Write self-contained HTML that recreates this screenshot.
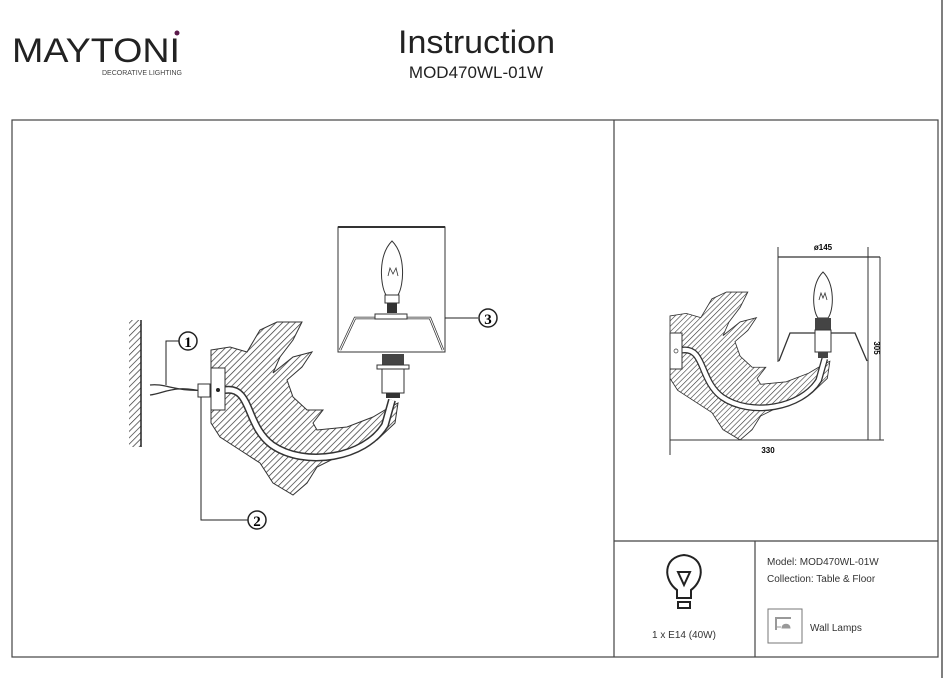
<!DOCTYPE html>
<html><head><meta charset="utf-8"><style>
body{margin:0;background:#fff;width:947px;height:678px;overflow:hidden;font-family:"Liberation Sans",sans-serif}
</style></head><body>
<svg width="947" height="678" viewBox="0 0 947 678" xmlns="http://www.w3.org/2000/svg" font-family="Liberation Sans, sans-serif">
<defs>
<pattern id="h" width="4.5" height="4.5" patternUnits="userSpaceOnUse" patternTransform="rotate(45)">
<rect width="5" height="5" fill="#fff"/><line x1="0" y1="0" x2="0" y2="5" stroke="#333" stroke-width="1.4"/></pattern>
<g id="body">
<path d="M211,350 L230,347 L247,352 L260,330 L277,322 L302,322 L293,340 L280,357 L273,373 L293,357 L312,352 L302,367 L287,380 L293,397 L307,410 L323,410 L313,423 L317,430 L347,427 L373,417 L390,407 L398,403 L395,423 L377,440 L353,450 L337,457 L317,467 L307,483 L293,495 L273,483 L260,463 L240,450 L220,437 L211,423 Z" fill="url(#h)" stroke="#333" stroke-width="1"/>
<path d="M225,390 C252,386 245,425 272,445 C305,468 365,458 385,425 L392,400" fill="none" stroke="#333" stroke-width="8"/>
<path d="M225,390 C252,386 245,425 272,445 C305,468 365,458 385,425 L392,400" fill="none" stroke="#fff" stroke-width="5"/>
</g>
</defs>
<line x1="942" y1="0" x2="942" y2="678" stroke="#555" stroke-width="1.5"/>
<text x="12" y="62" font-size="34" fill="#222" textLength="168" lengthAdjust="spacingAndGlyphs">MAYTONI</text>
<circle cx="177" cy="33" r="2.5" fill="#5a1a4a"/>
<text x="182" y="75" font-size="7" fill="#444" text-anchor="end">DECORATIVE LIGHTING</text>
<text x="398" y="53" font-size="32" fill="#222" textLength="157" lengthAdjust="spacingAndGlyphs">Instruction</text>
<text x="476" y="78" font-size="17" fill="#222" text-anchor="middle">MOD470WL-01W</text>
<rect x="12" y="120" width="926" height="537" fill="none" stroke="#444" stroke-width="1.2"/>
<line x1="614" y1="120" x2="614" y2="657" stroke="#444" stroke-width="1.2"/>
<line x1="614" y1="541" x2="938" y2="541" stroke="#444" stroke-width="1.2"/>
<line x1="755" y1="541" x2="755" y2="657" stroke="#444" stroke-width="1.2"/>
<!-- wall -->
<rect x="129" y="320" width="12" height="127" fill="url(#h)"/>
<line x1="141" y1="320" x2="141" y2="447" stroke="#222" stroke-width="1.5"/>
<!-- wires -->
<path d="M150,385 C165,383 175,392 205,390 M150,395 C165,393 175,384 205,392" fill="none" stroke="#333" stroke-width="1.3"/>
<rect x="198" y="384" width="12" height="13" fill="#fff" stroke="#333"/>
<path d="M166,385 L166,341 L179,341" fill="none" stroke="#222"/>
<circle cx="188" cy="341" r="9" fill="#fff" stroke="#222" stroke-width="1.5"/>
<text x="188" y="347" font-size="15" font-weight="bold" text-anchor="middle" font-family="Liberation Serif,serif">1</text>
<path d="M201,397 L201,520 L248,520" fill="none" stroke="#222"/>
<circle cx="257" cy="520" r="9" fill="#fff" stroke="#222" stroke-width="1.5"/>
<text x="257" y="526" font-size="15" font-weight="bold" text-anchor="middle" font-family="Liberation Serif,serif">2</text>
<use href="#body"/>
<rect x="211" y="368" width="14" height="42" fill="#fff" stroke="#333"/>
<circle cx="218" cy="390" r="2" fill="#222"/>
<!-- shade main -->
<rect x="338" y="227" width="107" height="125" fill="#fff" stroke="#333"/>
<line x1="338" y1="227" x2="445" y2="227" stroke="#333" stroke-width="2"/>
<path d="M340,350 L355,318 L430,318 L443,350" fill="none" stroke="#333" stroke-width="2.5"/>
<path d="M340,350 L355,318 L430,318 L443,350" fill="none" stroke="#fff" stroke-width="1"/>
<rect x="375" y="314" width="32" height="5" fill="#fff" stroke="#333"/>
<path d="M392,241 C378,255 380,285 386,295 L398,295 C404,285 406,255 392,241 Z" fill="#fff" stroke="#333"/>
<rect x="385" y="295" width="14" height="8" fill="#fff" stroke="#333"/>
<rect x="387" y="303" width="10" height="10" fill="#333"/>
<path d="M388,276 L390,268 L393,274 L396,268 L398,276" fill="none" stroke="#333" stroke-width="0.8"/>
<rect x="382" y="354" width="22" height="12" fill="#444"/>
<rect x="377" y="365" width="32" height="4" fill="#fff" stroke="#333"/>
<rect x="382" y="369" width="22" height="24" fill="#fff" stroke="#333"/>
<rect x="386" y="393" width="14" height="5" fill="#333"/>
<line x1="445" y1="318" x2="478" y2="318" stroke="#222"/>
<circle cx="488" cy="318" r="9" fill="#fff" stroke="#222" stroke-width="1.5"/>
<text x="488" y="324" font-size="15" font-weight="bold" text-anchor="middle" font-family="Liberation Serif,serif">3</text>
<!-- right drawing -->
<line x1="778" y1="247" x2="778" y2="362" stroke="#333"/>
<line x1="868" y1="247" x2="868" y2="440" stroke="#333"/>
<line x1="778" y1="257" x2="880" y2="257" stroke="#333" stroke-width="1.3"/>
<text x="823" y="250" font-size="8" font-weight="bold" text-anchor="middle">ø145</text>
<g transform="translate(489.6,16.7) scale(0.855)"><use href="#body"/></g>
<rect x="670" y="333" width="12" height="36" fill="#fff" stroke="#333"/>
<circle cx="676" cy="351" r="2" fill="none" stroke="#333" stroke-width="0.7"/>
<path d="M779,361 L790,333 L855,333 L867,361" fill="none" stroke="#333" stroke-width="1.3"/>
<path d="M823,272 C811,284 812,310 818,318 L828,318 C834,310 835,284 823,272 Z" fill="#fff" stroke="#333"/>
<path d="M819,300 L821,293 L823,298 L825,293 L827,300" fill="none" stroke="#333" stroke-width="0.8"/>
<rect x="815" y="318" width="16" height="12" fill="#444"/>
<rect x="815" y="330" width="16" height="22" fill="#fff" stroke="#333"/>
<rect x="818" y="352" width="10" height="6" fill="#444"/>
<line x1="880" y1="257" x2="880" y2="440" stroke="#333"/>
<text x="874" y="348" font-size="8" font-weight="bold" text-anchor="middle" transform="rotate(90 874 348)">305</text>
<line x1="670" y1="369" x2="670" y2="455" stroke="#333"/>
<line x1="670" y1="440" x2="884" y2="440" stroke="#333"/>
<text x="768" y="453" font-size="8" font-weight="bold" text-anchor="middle">330</text>
<!-- bottom cell -->
<path d="M677,598 L677,590 C663,580 663,557 684,555 C705,557 705,580 691,590 L691,598 Z" fill="none" stroke="#222" stroke-width="2"/>
<path d="M678,572 L690,572 L684,585 Z" fill="none" stroke="#222" stroke-width="2"/>
<rect x="678" y="602" width="12" height="6" fill="none" stroke="#222" stroke-width="2"/>
<text x="684" y="638" font-size="10" fill="#333" text-anchor="middle">1 x E14 (40W)</text>
<text x="767" y="565" font-size="10" fill="#333">Model: MOD470WL-01W</text>
<text x="767" y="582" font-size="10" fill="#333">Collection: Table &amp; Floor</text>
<rect x="768" y="609" width="34" height="34" fill="#fff" stroke="#777"/>
<path d="M776,630 L776,618 L791,618" fill="none" stroke="#999" stroke-width="2"/>
<path d="M777,627 L781,627 M782,628 C782,623 790,623 790,628 Z" fill="#999" stroke="#999"/>
<text x="810" y="631" font-size="10" fill="#333">Wall Lamps</text>
</svg>
</body></html>
